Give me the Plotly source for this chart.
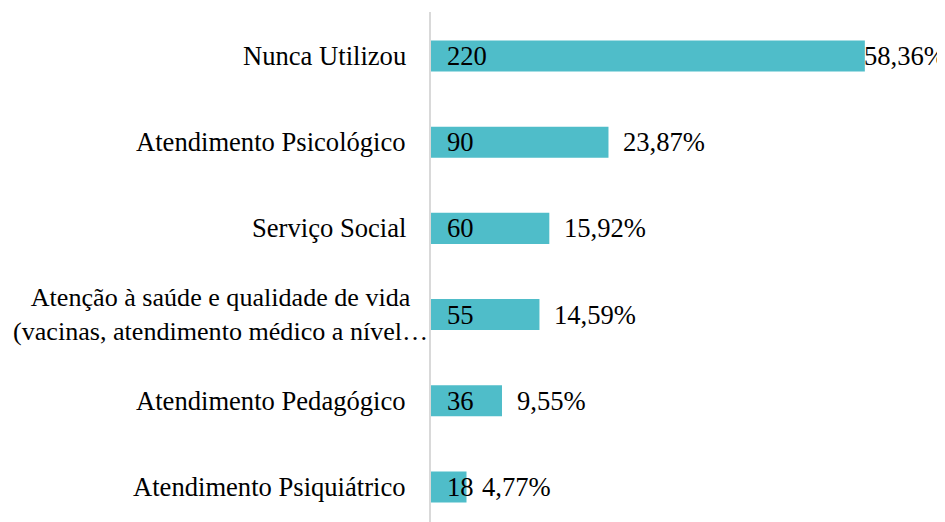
import plotly.graph_objects as go

categories = [
    "Nunca Utilizou",
    "Atendimento Psicológico",
    "Serviço Social",
    "Atenção à saúde e qualidade de vida<br>(vacinas, atendimento médico a nível…",
    "Atendimento Pedagógico",
    "Atendimento Psiquiátrico",
]
counts = [220, 90, 60, 55, 36, 18]
percent_labels = ["58,36%", "23,87%", "15,92%", "14,59%", "9,55%", "4,77%"]
pct_shift = [-1, 15, 15, 15, 15, 15]

FONT = "Liberation Serif"
FS = 26.6
BAR = "#4FBDC9"

fig = go.Figure()
fig.add_trace(go.Bar(
    x=counts, y=categories, orientation="h",
    marker=dict(color=BAR, line=dict(width=0)),
    width=0.36, hoverinfo="skip",
))

ann = []
for c, v, p, s in zip(categories, counts, percent_labels, pct_shift):
    multi = "<br>" in c
    ann.append(dict(x=0, y=c, xref="x", yref="y", text=c, showarrow=False,
                    xanchor="right", yanchor="middle", align="center",
                    xshift=-1 if multi else -23,
                    font=dict(family=FONT, size=26.1 if multi else FS, color="#000000")))
    ann.append(dict(x=0, y=c, xref="x", yref="y", text=str(v), showarrow=False,
                    xanchor="left", yanchor="middle", xshift=14,
                    font=dict(family=FONT, size=FS, color="#000000")))
    ann.append(dict(x=v, y=c, xref="x", yref="y", text=p, showarrow=False,
                    xanchor="left", yanchor="middle", xshift=s - 2,
                    font=dict(family=FONT, size=FS, color="#000000")))

fig.update_layout(
    width=945, height=522,
    margin=dict(l=423, r=29, t=4, b=8),
    paper_bgcolor="white", plot_bgcolor="white",
    showlegend=False,
    font=dict(family=FONT),
    annotations=ann,
    xaxis=dict(range=[0, 250], visible=False, showgrid=False, zeroline=False),
    yaxis=dict(categoryorder="array", categoryarray=categories,
               range=[5.406, -0.51], showticklabels=False, ticks="",
               showgrid=False, zeroline=False,
               showline=True, linecolor="#D9D9D9", linewidth=2),
)

fig.write_html("out.html")
